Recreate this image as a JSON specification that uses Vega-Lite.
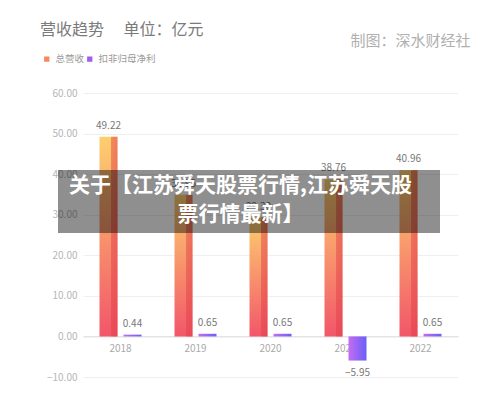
{
  "$schema": "https://vega.github.io/schema/vega-lite/v6.json",
  "width": 375,
  "height": 284,
  "autosize": {"type": "none"},
  "padding": {"left": 83, "top": 93, "right": 42, "bottom": 26},
  "title": {"text": "营收趋势　 单位：亿元", "anchor": "start", "frame": "group", "dx": -43, "offset": -4, "fontSize": 16, "fontWeight": "normal", "color": "#7a7a7a", "font": "Noto Sans CJK SC"},
  "datasets": {
    "main": [
      {"year": "2018", "series": "总营收", "value": 49.22},
      {"year": "2019", "series": "总营收", "value": 34.95},
      {"year": "2020", "series": "总营收", "value": 29.30},
      {"year": "2021", "series": "总营收", "value": 38.76},
      {"year": "2022", "series": "总营收", "value": 40.96},
      {"year": "2018", "series": "扣非归母净利", "value": 0.44},
      {"year": "2019", "series": "扣非归母净利", "value": 0.65},
      {"year": "2020", "series": "扣非归母净利", "value": 0.65},
      {"year": "2021", "series": "扣非归母净利", "value": -5.95},
      {"year": "2022", "series": "扣非归母净利", "value": 0.65}
    ],
    "one": [{"k": 1}]
  },
  "layer": [
    {
      "data": {"name": "main"},
      "mark": {"type": "point", "shape": "square", "filled": true, "opacity": 0},
      "encoding": {
        "x": {"field": "year", "type": "nominal", "title": null,
          "scale": {"paddingInner": 0.4, "paddingOuter": 0.2},
          "axis": {"labelAngle": 0, "domain": true, "domainColor": "#dcdcdc", "ticks": false, "labelColor": "#aaaaaa", "labelFontSize": 10, "labelPadding": 7, "offset": -40.6, "grid": false}},
        "y": {"field": "value", "type": "quantitative", "title": null,
          "scale": {"domain": [-10, 60], "nice": false},
          "axis": {"values": [-10, 0, 10, 20, 30, 40, 50, 60], "format": ".2f", "grid": true, "gridColor": "#efefef", "domain": false, "ticks": false, "labelColor": "#b5b5b5", "labelFontSize": 10, "labelPadding": 6}},
        "color": {"field": "series", "type": "nominal",
          "scale": {"domain": ["总营收", "扣非归母净利"], "range": ["#f58a5c", "#a35ee8"]},
          "legend": {"orient": "none", "legendX": -41, "legendY": -39, "direction": "horizontal", "title": null, "symbolType": "square", "symbolSize": 28, "symbolOpacity": 1, "symbolStrokeWidth": 0, "labelFontSize": 9.5, "labelColor": "#9a9a9a", "labelOffset": 4, "columnPadding": -8}}
      }
    },
    {
      "data": {"name": "main"},
      "transform": [{"filter": "datum.series === '总营收'"}],
      "mark": {"type": "bar", "fill": {"gradient": "linear", "x1": 0, "y1": 0, "x2": 0, "y2": 1, "stops": [{"offset": 0, "color": "#fdcf6e"}, {"offset": 1, "color": "#f2566a"}]}},
      "encoding": {
        "x": {"field": "year", "type": "nominal"},
        "y": {"field": "value", "type": "quantitative"},
        "xOffset": {"field": "series", "type": "nominal", "scale": {"domain": ["总营收", "扣非归母净利"], "paddingInner": 0.25, "paddingOuter": 0.0625}}
      }
    },
    {
      "data": {"name": "main"},
      "transform": [{"filter": "datum.series === '总营收'"}],
      "mark": {"type": "bar", "fill": {"gradient": "linear", "x1": 0, "y1": 0, "x2": 1, "y2": 0, "stops": [{"offset": 0, "color": "rgba(0,0,0,0)"}, {"offset": 0.64, "color": "rgba(0,0,0,0)"}, {"offset": 0.65, "color": "rgba(225,60,70,0.45)"}, {"offset": 1, "color": "rgba(225,60,70,0.55)"}]}},
      "encoding": {
        "x": {"field": "year", "type": "nominal"},
        "y": {"field": "value", "type": "quantitative"},
        "xOffset": {"field": "series", "type": "nominal"}
      }
    },
    {
      "data": {"name": "main"},
      "transform": [{"filter": "datum.series === '扣非归母净利'"}],
      "mark": {"type": "bar", "fill": {"gradient": "linear", "x1": 0, "y1": 0, "x2": 1, "y2": 0, "stops": [{"offset": 0, "color": "#c46cf2"}, {"offset": 1, "color": "#6a5ff7"}]}},
      "encoding": {
        "x": {"field": "year", "type": "nominal"},
        "y": {"field": "value", "type": "quantitative"},
        "xOffset": {"field": "series", "type": "nominal"}
      }
    },
    {
      "data": {"name": "main"},
      "transform": [{"filter": "datum.value >= 0"}],
      "mark": {"type": "text", "baseline": "bottom", "dy": -6, "fontSize": 10, "color": "#777777"},
      "encoding": {
        "x": {"field": "year", "type": "nominal"},
        "y": {"field": "value", "type": "quantitative"},
        "xOffset": {"field": "series", "type": "nominal"},
        "text": {"field": "value", "type": "quantitative", "format": ".2f"}
      }
    },
    {
      "data": {"name": "main"},
      "transform": [{"filter": "datum.value < 0"}],
      "mark": {"type": "text", "baseline": "top", "dy": 7, "fontSize": 10, "color": "#777777"},
      "encoding": {
        "x": {"field": "year", "type": "nominal"},
        "y": {"field": "value", "type": "quantitative"},
        "xOffset": {"field": "series", "type": "nominal"},
        "text": {"field": "value", "type": "quantitative", "format": ".2f"}
      }
    },
    {
      "data": {"name": "one"},
      "mark": {"type": "rect", "fill": "#000000", "opacity": 0.44, "xOffset": -62.5, "x2Offset": 19.5},
      "encoding": {
        "x": {"datum": "2018", "type": "nominal"},
        "x2": {"datum": "2022"},
        "y": {"datum": 41.0, "type": "quantitative"},
        "y2": {"datum": 25.5}
      }
    },
    {
      "data": {"name": "one"},
      "mark": {"type": "text", "text": ["关于【江苏舜天股票行情,江苏舜天股", "票行情最新】"], "align": "center", "baseline": "middle", "lineHeight": 29, "fontSize": 21, "fontWeight": "bold", "color": "#ffffff", "dx": -30},
      "encoding": {
        "x": {"datum": "2020", "type": "nominal"},
        "y": {"datum": 37.1, "type": "quantitative"}
      }
    },
    {
      "data": {"name": "one"},
      "mark": {"type": "text", "text": "制图：深水财经社", "align": "right", "baseline": "middle", "fontSize": 15, "color": "#b0b0b0", "dx": 50},
      "encoding": {
        "x": {"datum": "2022", "type": "nominal"},
        "y": {"datum": 72.9, "type": "quantitative"}
      }
    }
  ],
  "config": {"view": {"stroke": null}, "font": "Noto Sans CJK SC"}
}
